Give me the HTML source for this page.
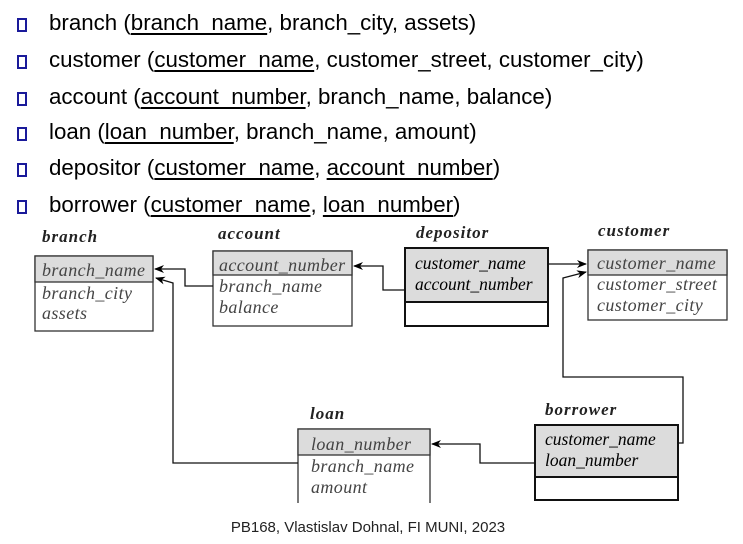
<!DOCTYPE html>
<html><head><meta charset="utf-8"><style>
html,body{margin:0;padding:0;background:#fff;width:743px;height:544px;overflow:hidden}
.t{position:absolute;left:49px;font:22.3px "Liberation Sans",sans-serif;color:#000;white-space:nowrap}
.b{position:absolute;left:17px;width:6px;height:10px;border:2px solid #1a1a9a}
u{text-decoration-thickness:2px;text-underline-offset:3px}
</style></head><body>
<div class="b" style="top:18px"></div><div class="t" style="top:10px">branch (<u>branch_name</u>, branch_city, assets)</div>
<div class="b" style="top:55px"></div><div class="t" style="top:47px">customer (<u>customer_name</u>, customer_street, customer_city)</div>
<div class="b" style="top:92px"></div><div class="t" style="top:84px">account (<u>account_number</u>, branch_name, balance)</div>
<div class="b" style="top:127px"></div><div class="t" style="top:119px">loan (<u>loan_number</u>, branch_name, amount)</div>
<div class="b" style="top:163px"></div><div class="t" style="top:155px">depositor (<u>customer_name</u>, <u>account_number</u>)</div>
<div class="b" style="top:200px"></div><div class="t" style="top:192px">borrower (<u>customer_name</u>, <u>loan_number</u>)</div>
<svg width="743" height="544" style="position:absolute;left:0;top:0" font-family="Liberation Serif, serif">
<defs><marker id="a" markerWidth="10" markerHeight="8" refX="9" refY="4" orient="auto" markerUnits="userSpaceOnUse"><path d="M0,0 L10,4 L0,8 L3,4z" fill="#000"/></marker></defs>
<g font-style="italic" font-weight="bold" font-size="17" letter-spacing="1" fill="#222">
<text x="42" y="242">branch</text><text x="218" y="239">account</text><text x="416" y="238">depositor</text>
<text x="598" y="236">customer</text><text x="545" y="415">borrower</text><text x="310" y="419">loan</text></g>
<g stroke="#333" stroke-width="1.3" fill="#fff">
<rect x="35" y="256" width="118" height="75"/><rect x="35" y="256" width="118" height="26" fill="#dcdcdc"/>
<rect x="213" y="251" width="139" height="75"/><rect x="213" y="251" width="139" height="24" fill="#dcdcdc"/>
<rect x="588" y="250" width="139" height="70"/><rect x="588" y="250" width="139" height="25" fill="#dcdcdc"/>
<path d="M298,503 V429 H430 V503" /><rect x="298" y="429" width="132" height="26" fill="#dcdcdc"/>
</g>
<g stroke="#111" stroke-width="2" fill="#fff">
<rect x="405" y="248" width="143" height="78"/><rect x="405" y="248" width="143" height="54" fill="#dcdcdc"/>
<rect x="535" y="425" width="143" height="75"/><rect x="535" y="425" width="143" height="52" fill="#dcdcdc"/>
</g>
<g font-style="italic" font-size="18" letter-spacing="0.4" fill="#444">
<text x="42" y="276">branch_name</text><text x="42" y="299">branch_city</text><text x="42" y="319">assets</text>
<text x="219" y="271">account_number</text><text x="219" y="292">branch_name</text><text x="219" y="313">balance</text>
<text x="597" y="269">customer_name</text><text x="597" y="290">customer_street</text><text x="597" y="311">customer_city</text>
<text x="311" y="450">loan_number</text><text x="311" y="472">branch_name</text><text x="311" y="493">amount</text>
</g>
<g font-style="italic" font-size="17.5" fill="#000">
<text x="415" y="269">customer_name</text><text x="415" y="290">account_number</text>
<text x="545" y="445">customer_name</text><text x="545" y="466">loan_number</text>
</g>
<g stroke="#111" stroke-width="1.3" fill="none" marker-end="url(#a)">
<path d="M213,286 H185 V269 H155"/>
<path d="M298,463 H173 V283 L156,278"/>
<path d="M405,290 H383 V266 H354"/>
<path d="M548,264 H586"/>
<path d="M678,443 H683 V377 H563 V278 L586,272"/>
<path d="M535,463 H480 V444 H432"/>
</g>
<text x="368" y="532" text-anchor="middle" font-family="Liberation Sans, sans-serif" font-size="15" fill="#222">PB168, Vlastislav Dohnal, FI MUNI, 2023</text>
</svg>
</body></html>
